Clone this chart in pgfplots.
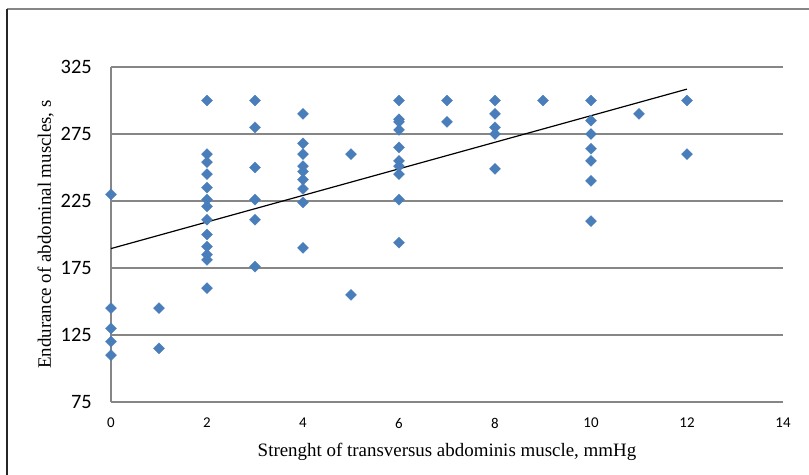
\documentclass[border=0pt]{standalone}
\usepackage{pgfplots}
\pgfplotsset{compat=1.18}
\usepackage{fontspec}
\setmainfont{Liberation Serif}
\newfontfamily\calibri{Carlito}
\definecolor{dotblue}{RGB}{74,126,187}
\definecolor{gridgray}{RGB}{134,134,134}
\begin{document}
\begin{tikzpicture}
\useasboundingbox (0,0) rectangle (809bp,475bp);
% outer chart frame (only top and left edges are inside the picture)
\draw[gridgray, line width=1.6bp] (7bp,466bp) -- (820bp,466bp);
\draw[black!85, line width=1.2bp] (7bp,466bp) -- (7bp,-5bp);
\begin{axis}[
    at={(111bp,73bp)}, anchor=south west,
    width=672bp, height=335bp, scale only axis,
    xmin=0, xmax=14, ymin=75, ymax=325,
    xtick={0,2,...,14}, ytick={75,125,...,325},
    axis lines*=left,
    axis line style={gridgray, line width=1.4bp},
    ymajorgrids, grid style={gridgray, line width=1.1bp},
    major tick length=0pt,
    clip=false,
    /pgf/number format/assume math mode=true,
    xticklabel style={font=\calibri\fontsize{15}{18}\selectfont, anchor=north, inner sep=0pt, yshift=-16bp},
    yticklabel style={font=\calibri\fontsize{20.5}{24}\selectfont, anchor=east, inner sep=0pt, xshift=-19bp},
    xlabel={Strenght of transversus abdominis muscle, mmHg},
    ylabel={Endurance of abdominal muscles, s},
    label style={font=\fontsize{19}{22}\selectfont},
    xlabel style={at={(axis description cs:0.5,-0.164)}, anchor=base, inner sep=0pt},
    ylabel style={at={(axis description cs:-0.0893,0.5)}, anchor=base, inner sep=0pt},
]
\addplot[only marks, mark=square*, mark size=3.9bp,
    mark options={rotate=45, fill=dotblue, draw=dotblue, line width=0.3bp}]
coordinates {
    (0,230) (0,145) (0,130) (0,120) (0,110)
    (1,145) (1,115)
    (2,300) (2,260) (2,254) (2,245) (2,235) (2,226) (2,221) (2,211)
    (2,200) (2,191) (2,185) (2,181) (2,160)
    (3,300) (3,280) (3,250) (3,226) (3,211) (3,176)
    (4,290) (4,268) (4,260) (4,251) (4,247) (4,241) (4,234) (4,224) (4,190)
    (5,260) (5,155)
    (6,300) (6,286) (6,284) (6,278) (6,265) (6,255) (6,251) (6,245) (6,226) (6,194)
    (7,300) (7,284)
    (8,300) (8,290) (8,280) (8,275) (8,249)
    (9,300)
    (10,300) (10,285) (10,275) (10,264) (10,255) (10,240) (10,210)
    (11,290)
    (12,300) (12,260)
};
\addplot[black, line width=1.2bp] coordinates {(0,189.5) (12,308.5)};
\end{axis}
\end{tikzpicture}
\end{document}
